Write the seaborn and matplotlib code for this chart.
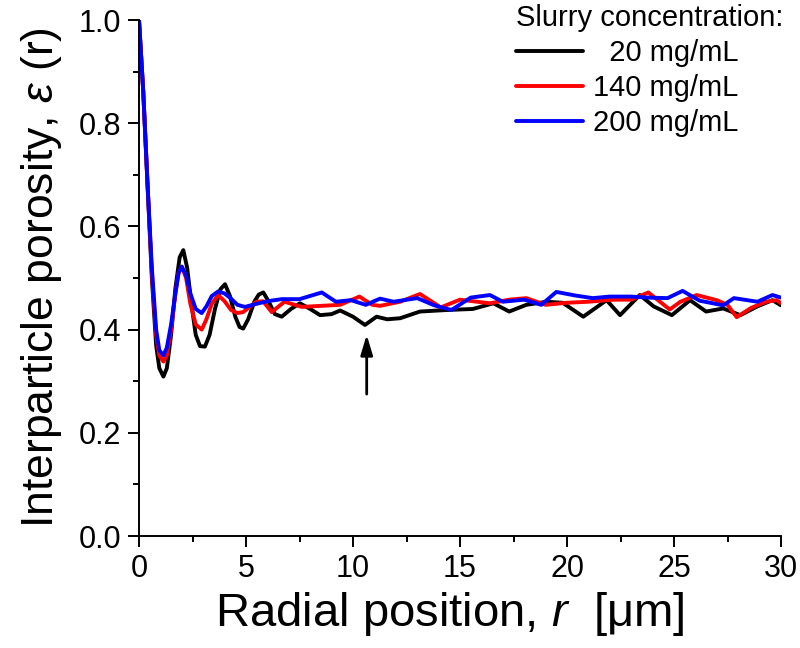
import matplotlib
matplotlib.use("Agg")
import matplotlib.pyplot as plt
import seaborn as sns
import pandas as pd

# ---- data ----
r_20 = [0, 0.2, 0.4, 0.6, 0.8, 0.95, 1.14, 1.3, 1.5, 1.7, 1.9, 2.07, 2.25, 2.45, 2.65, 2.85,
        3.08, 3.3, 3.55, 3.8, 4.02, 4.25, 4.5, 4.7, 4.87, 5.1, 5.4, 5.6, 5.81, 6.05, 6.35, 6.67,
        7.1, 7.52, 8.0, 8.46, 9.0, 9.4, 10.0, 10.56, 11.1, 11.6,
        12.2, 13.13, 14.4, 15.6, 16.56, 17.3, 18.1, 19.05, 19.8, 20.76, 21.85, 22.48, 23.4,
        24.05, 24.9, 25.75, 26.5, 27.3, 28.1, 28.9, 29.6, 30.0]
eps_20 = [1.0, 0.86, 0.68, 0.50, 0.37, 0.325, 0.309, 0.325, 0.39, 0.48, 0.54, 0.554, 0.52, 0.45,
          0.39, 0.368, 0.367, 0.39, 0.44, 0.478, 0.488, 0.465, 0.425, 0.405, 0.402, 0.42, 0.455,
          0.468, 0.472, 0.455, 0.43, 0.425,
          0.44, 0.451, 0.44, 0.428, 0.43, 0.437, 0.425,
          0.409, 0.425, 0.42, 0.422, 0.435, 0.438, 0.44, 0.451, 0.435, 0.448, 0.454, 0.452,
          0.425, 0.457, 0.428, 0.467, 0.445, 0.428, 0.457, 0.435, 0.441, 0.428, 0.445, 0.457,
          0.447]

r_140 = [0, 0.2, 0.4, 0.6, 0.8, 0.95, 1.14, 1.3, 1.5, 1.7, 1.85, 2.0, 2.2, 2.4, 2.65, 2.93,
         3.15, 3.4, 3.7, 4.0, 4.3, 4.6, 4.87, 5.2, 5.5, 5.8, 6.2, 6.8, 7.6, 8.5, 9.4, 10.3,
         10.9, 11.26, 12.2, 13.13, 14.1, 15.0,
         16.4, 17.3, 18.1, 19.0, 20.0, 21.0, 22.2, 23.0, 23.8, 24.8, 25.3, 26.06, 27.0, 27.5,
         27.93, 28.6, 29.3, 29.8, 30.0]
eps_140 = [1.0, 0.86, 0.68, 0.51, 0.39, 0.35, 0.338, 0.35, 0.40, 0.47, 0.51, 0.522, 0.50, 0.45,
           0.41, 0.40, 0.42, 0.45, 0.467, 0.455, 0.438, 0.432, 0.434, 0.445, 0.454, 0.455,
           0.434, 0.454, 0.444, 0.446, 0.448, 0.464, 0.448, 0.446,
           0.454, 0.469, 0.443, 0.458, 0.451, 0.458, 0.461, 0.448, 0.452, 0.454, 0.458, 0.458,
           0.472, 0.439, 0.454, 0.467, 0.457, 0.448, 0.424, 0.442, 0.454, 0.457, 0.451]

r_200 = [0, 0.2, 0.4, 0.6, 0.8, 0.95, 1.14, 1.3, 1.5, 1.7, 1.85, 2.0, 2.2, 2.4, 2.65, 2.93,
         3.15, 3.4, 3.7, 4.0, 4.3, 4.6, 4.95, 5.5, 6.0, 6.67, 7.5, 8.54, 9.2, 9.9, 10.6, 11.26,
         11.9, 13.0, 13.8, 14.6, 15.5,
         16.4, 17.0, 18.0, 18.8, 19.5, 20.4, 21.2, 22.0, 23.0, 23.8, 24.7, 25.4, 26.2, 27.3,
         27.8, 28.9, 29.6, 30.0]
eps_200 = [1.0, 0.86, 0.68, 0.52, 0.40, 0.36, 0.35, 0.365, 0.41, 0.47, 0.51, 0.522, 0.505, 0.47,
           0.44, 0.432, 0.445, 0.465, 0.474, 0.47, 0.46, 0.448, 0.444, 0.45, 0.455, 0.459, 0.459,
           0.472, 0.454, 0.457, 0.448, 0.460, 0.454,
           0.461, 0.447, 0.438, 0.462, 0.467, 0.454, 0.458, 0.448, 0.473, 0.466, 0.461, 0.464,
           0.464, 0.462, 0.461, 0.475, 0.456, 0.447, 0.461, 0.454, 0.467, 0.462]

series_labels = ["  20 mg/mL", "140 mg/mL", "200 mg/mL"]
series_colors = ["#000000", "#ff0000", "#0000ff"]

df = pd.concat([
    pd.DataFrame({"r": r_20, "eps": eps_20, "conc": series_labels[0]}),
    pd.DataFrame({"r": r_140, "eps": eps_140, "conc": series_labels[1]}),
    pd.DataFrame({"r": r_200, "eps": eps_200, "conc": series_labels[2]}),
], ignore_index=True)

# ---- style ----
sns.set_theme(style="ticks")
plt.rcParams["font.family"] = ["Liberation Sans", "DejaVu Sans"]
plt.rcParams["mathtext.fontset"] = "custom"
plt.rcParams["mathtext.rm"] = "Liberation Sans"
plt.rcParams["mathtext.it"] = "Liberation Sans:italic"
plt.rcParams["text.color"] = "black"
plt.rcParams["axes.labelcolor"] = "black"
plt.rcParams["xtick.color"] = "black"
plt.rcParams["ytick.color"] = "black"

fig = plt.figure(figsize=(8, 6.48), dpi=100)
ax = fig.add_axes([139 / 800, 1 - 536 / 648, (781 - 139) / 800, (536 - 20) / 648])

sns.lineplot(data=df, x="r", y="eps", hue="conc", palette=dict(zip(series_labels, series_colors)),
             sort=False, estimator=None, linewidth=2.8, ax=ax)
for ln in ax.get_lines():
    ln.set_solid_joinstyle("round")
    ln.set_solid_capstyle("round")

ax.set_xlim(0, 30)
ax.set_ylim(0, 1.0)
ax.set_xticks([0, 5, 10, 15, 20, 25, 30])
ax.set_xticks([2.5, 7.5, 12.5, 17.5, 22.5, 27.5], minor=True)
ax.set_yticks([0.0, 0.2, 0.4, 0.6, 0.8, 1.0])
ax.set_yticks([0.1, 0.3, 0.5, 0.7, 0.9], minor=True)
ax.set_yticklabels(["0.0", "0.2", "0.4", "0.6", "0.8", "1.0"])

for s in ["top", "right"]:
    ax.spines[s].set_visible(False)
for s in ["left", "bottom"]:
    ax.spines[s].set_linewidth(1.4)
    ax.spines[s].set_color("black")

ax.tick_params(axis="both", which="major", direction="out", length=8, width=1.4,
               labelsize=22, pad=5, colors="black")
ax.tick_params(axis="both", which="minor", direction="out", length=4, width=1.4, colors="black")

ax.set_xlabel(r"Radial position, $r$  [μm]", fontsize=34, color="black")
ax.xaxis.set_label_coords(0.484, -0.105)
ax.set_ylabel(r"Interparticle porosity, $\varepsilon$ (r)", fontsize=32, labelpad=10,
              color="black")

# arrow
ax.annotate("", xy=(10.64, 0.39), xytext=(10.64, 0.275),
            arrowprops=dict(arrowstyle="-|>,head_length=1.0,head_width=0.3", color="black",
                            lw=2.0, shrinkA=0, shrinkB=0))

# legend
handles, labels = ax.get_legend_handles_labels()
leg = ax.legend(handles, labels, title="Slurry concentration:", frameon=False,
                loc="upper left", bbox_to_anchor=(516 / 800, 1 - 4 / 648),
                bbox_transform=fig.transFigure, fontsize=21, title_fontsize=21,
                handlelength=2.3, handletextpad=0.35, labelspacing=0.24,
                borderpad=0.0, borderaxespad=0.0)
leg._legend_box.align = "left"
for line in leg.get_lines():
    line.set_linewidth(2.8)

fig.savefig("out.png", dpi=100)
